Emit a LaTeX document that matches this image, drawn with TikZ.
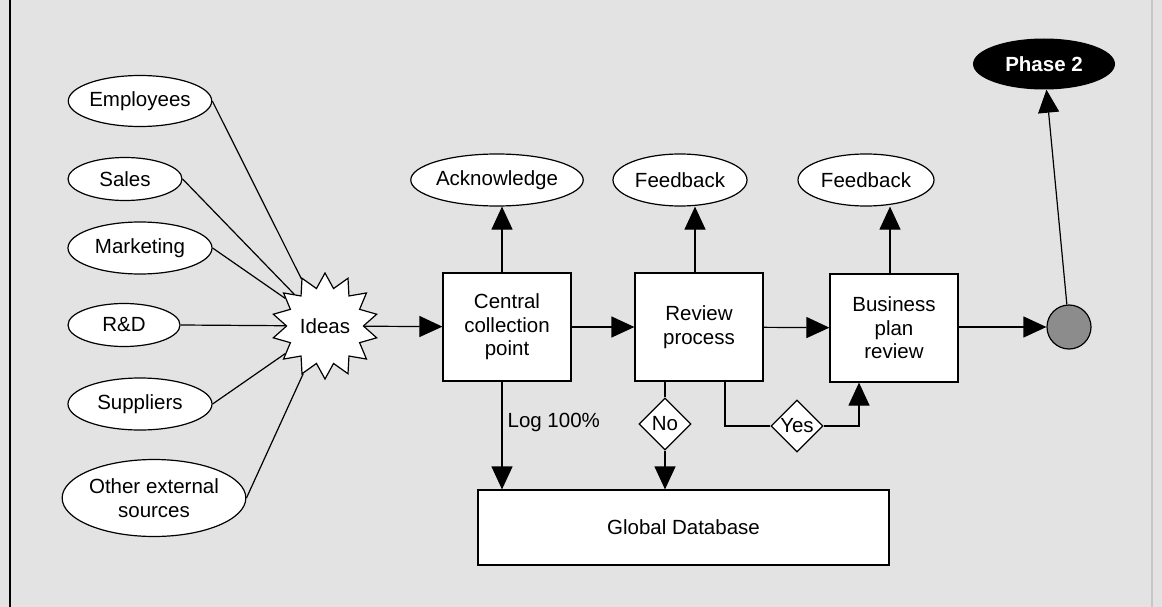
\documentclass[tikz,border=0pt]{standalone}
\usepackage{fontspec}
\setmainfont{Liberation Sans}
\usetikzlibrary{shapes.geometric,arrows.meta}
\begin{document}
\begin{tikzpicture}[x=1pt,y=-1pt,
  every node/.style={font=\fontsize{20.5}{23.5}\selectfont, align=center, inner sep=0pt},
  src/.style={ellipse, draw, fill=white, line width=1.2pt},
  outcome/.style={ellipse, draw, fill=white, line width=1.2pt, minimum height=52pt},
  stage/.style={rectangle, draw, fill=white, line width=1.2pt, minimum width=128pt, minimum height=108pt},
  gate/.style={diamond, draw, fill=white, line width=1.2pt, minimum width=52pt, minimum height=52pt},
  link/.style={line width=1.2pt},
  flow/.style={line width=1.2pt, -{Triangle[length=23pt,width=21pt]}}]

% page background and frame
\fill[black!11] (0,0) rectangle (1162,607);
\useasboundingbox (0,0) rectangle (1162,607);
\draw[line width=1.6pt] (10,0) -- (10,607);
\draw[line width=1.2pt, black!22] (1152,0) -- (1152,607);

% sources of ideas
\node[src, minimum width=142pt, minimum height=51pt] (emp) at (140,101) {Employees};
\node[src, minimum width=114pt, minimum height=43pt] (sal) at (125,179) {Sales};
\node[src, minimum width=144pt, minimum height=52pt] (mkt) at (140,248) {Marketing};
\node[src, minimum width=112pt, minimum height=43pt] (rnd) at (124,325) {R\&D};
\node[src, minimum width=144pt, minimum height=52pt] (sup) at (140,404) {Suppliers};
\node[src, minimum width=172pt, minimum height=77pt] (oth) at (154,498) {Other external\\sources};

\node[star, star points=14, star point ratio=1.38, minimum size=106pt, draw, fill=white, line width=1.2pt] (ideas) at (325,326) {Ideas};

\foreach \s in {emp,sal,mkt,rnd,sup,oth}
  \draw[link] (\s.east) -- (ideas);

% main process
\node[stage] (col) at (507,327) {Central\\collection\\point};
\node[stage] (rev) at (699,327) {Review\\process};
\node[stage] (bus) at (894,328) {Business\\plan\\review};
\node[circle, draw, fill=black!45, line width=1.2pt, minimum size=44pt] (end) at (1069,327) {};
\node[ellipse, fill=black, minimum width=142pt, minimum height=51pt, text=white, font=\fontsize{20.5}{23.5}\selectfont\bfseries] (ph2) at (1044,64) {Phase 2};

\node[outcome, minimum width=136pt] (ack) at (497,180) {Acknowledge};
\node[outcome, minimum width=134pt] (fb1) at (680,180) {Feedback};
\node[outcome, minimum width=136pt] (fb2) at (866,180) {Feedback};

\node[rectangle, draw, fill=white, line width=1.2pt, minimum width=411pt, minimum height=75pt] (db) at (683.5,527.5) {Global Database};

\node[gate] (no) at (665,424) {No};
\node[gate] (yes) at (797,426) {Yes};

\draw[flow] (ideas) -- (col);
\draw[flow] (col) -- (rev);
\draw[flow] (rev) -- (bus);
\draw[flow] (bus.east |- end) -- (end);
\draw[flow] (end) -- (ph2);

\draw[flow] (col.north -| 502,0) -- (ack.south -| 502,0);
\draw[flow] (rev.north -| 695,0) -- (fb1.south -| 695,0);
\draw[flow] (bus.north -| 890,0) -- (fb2.south -| 890,0);

\draw[flow] (col.south -| 502,0) -- node[right=5pt, pos=0.38, anchor=west] {Log 100\%} (db.north -| 502,0);
\draw[link] (rev.south -| no) -- (no.north);
\draw[flow] (no.south) -- (db.north -| no);
\draw[link] (rev.south -| 725,0) |- (yes.west);
\draw[flow] (yes.east) -| (bus.south -| 859,0);
\end{tikzpicture}
\end{document}
